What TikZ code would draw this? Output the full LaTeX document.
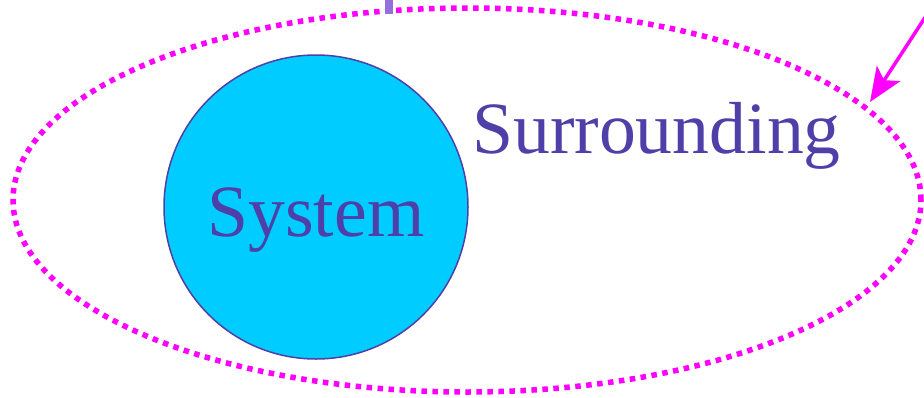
\documentclass[tikz,border=0pt]{standalone}
\usepackage{fontspec}
\setmainfont{Liberation Serif}
\usetikzlibrary{arrows.meta,shapes.geometric}
\definecolor{mag}{HTML}{FF00FF}
\definecolor{sysfill}{HTML}{00CCFF}
\definecolor{ink}{HTML}{4F3FA8}
\definecolor{stub}{HTML}{9370DB}
\tikzset{lbl/.style={text=ink,font=\fontsize{73.7}{80}\selectfont,inner sep=0pt}}
\begin{document}
\begin{tikzpicture}[x=1pt,y=-1pt]
\useasboundingbox (0,0) rectangle (924,397);
\node[draw=mag,line width=5.5pt,dash pattern=on 5.5pt off 5.5pt,ellipse,minimum width=908pt,minimum height=384pt,inner sep=0] (env) at (467,200) {};
\node[circle,draw=ink,fill=sysfill,line width=1.5pt,minimum size=304pt,inner sep=0] (sys) at (316,207) {};
\node[lbl,anchor=base] (systxt) at (316,236) {System};
\node[lbl,anchor=base west] (surr) at (472,153) {Surrounding};
\coordinate (stubtop) at (389,0);
\coordinate (stubbot) at (389,14);
\draw[stub,line width=8pt] (stubtop) -- (stubbot);
\coordinate (arrs) at (926,16);
\coordinate (arre) at (870,102);
\draw[mag,line width=3.5pt,-{Stealth[length=34pt,width=28pt,inset=8pt]}] (arrs) -- (arre);
\end{tikzpicture}
\end{document}
